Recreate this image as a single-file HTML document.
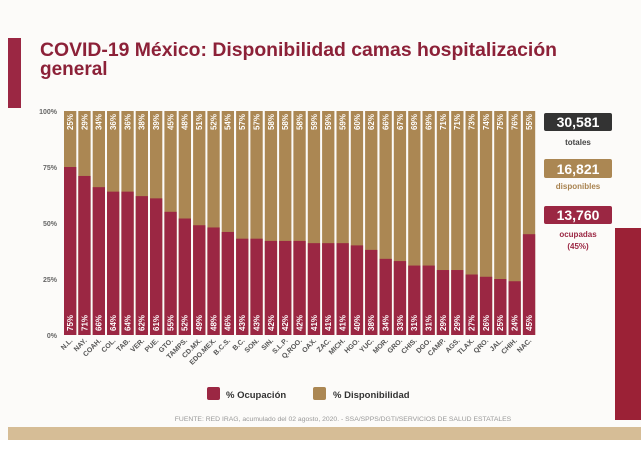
<!DOCTYPE html>
<html><head><meta charset="utf-8"><style>
html,body{margin:0;padding:0;background:#fff;}
svg{display:block;font-family:"Liberation Sans",sans-serif;}
</style></head><body>
<svg width="641" height="453" viewBox="0 0 641 453" xmlns="http://www.w3.org/2000/svg">
<rect width="641" height="453" fill="#fcfbf9"/>
<rect x="8" y="38" width="13" height="70" fill="#9b2743"/>
<text x="40" y="56" font-size="19" font-weight="bold" fill="#8c2138" textLength="517" lengthAdjust="spacingAndGlyphs">COVID-19 México: Disponibilidad camas hospitalización</text>
<text x="40" y="75" font-size="19" font-weight="bold" fill="#8c2138">general</text>
<g font-size="7" font-weight="bold" fill="#666" text-anchor="end">
<text x="57" y="114">100%</text><text x="57" y="170">75%</text><text x="57" y="226">50%</text><text x="57" y="282">25%</text><text x="57" y="338">0%</text>
</g>
<g font-size="8" font-weight="bold" fill="#fff">
<g transform="translate(64,0)"><rect y="111" width="12.3" height="224" fill="#ab8753"/><rect y="167" width="12.3" height="168" fill="#9b2743"/><text transform="translate(9,331) rotate(-90)">75%</text><text transform="translate(9,114) rotate(-90)" text-anchor="end">25%</text></g>
<g transform="translate(78.3,0)"><rect y="111" width="12.3" height="224" fill="#ab8753"/><rect y="175.96" width="12.3" height="159.04" fill="#9b2743"/><text transform="translate(9,331) rotate(-90)">71%</text><text transform="translate(9,114) rotate(-90)" text-anchor="end">29%</text></g>
<g transform="translate(92.7,0)"><rect y="111" width="12.3" height="224" fill="#ab8753"/><rect y="187.16" width="12.3" height="147.84" fill="#9b2743"/><text transform="translate(9,331) rotate(-90)">66%</text><text transform="translate(9,114) rotate(-90)" text-anchor="end">34%</text></g>
<g transform="translate(107,0)"><rect y="111" width="12.3" height="224" fill="#ab8753"/><rect y="191.64" width="12.3" height="143.36" fill="#9b2743"/><text transform="translate(9,331) rotate(-90)">64%</text><text transform="translate(9,114) rotate(-90)" text-anchor="end">36%</text></g>
<g transform="translate(121.4,0)"><rect y="111" width="12.3" height="224" fill="#ab8753"/><rect y="191.64" width="12.3" height="143.36" fill="#9b2743"/><text transform="translate(9,331) rotate(-90)">64%</text><text transform="translate(9,114) rotate(-90)" text-anchor="end">36%</text></g>
<g transform="translate(135.7,0)"><rect y="111" width="12.3" height="224" fill="#ab8753"/><rect y="196.12" width="12.3" height="138.88" fill="#9b2743"/><text transform="translate(9,331) rotate(-90)">62%</text><text transform="translate(9,114) rotate(-90)" text-anchor="end">38%</text></g>
<g transform="translate(150,0)"><rect y="111" width="12.3" height="224" fill="#ab8753"/><rect y="198.36" width="12.3" height="136.64" fill="#9b2743"/><text transform="translate(9,331) rotate(-90)">61%</text><text transform="translate(9,114) rotate(-90)" text-anchor="end">39%</text></g>
<g transform="translate(164.4,0)"><rect y="111" width="12.3" height="224" fill="#ab8753"/><rect y="211.8" width="12.3" height="123.2" fill="#9b2743"/><text transform="translate(9,331) rotate(-90)">55%</text><text transform="translate(9,114) rotate(-90)" text-anchor="end">45%</text></g>
<g transform="translate(178.7,0)"><rect y="111" width="12.3" height="224" fill="#ab8753"/><rect y="218.52" width="12.3" height="116.48" fill="#9b2743"/><text transform="translate(9,331) rotate(-90)">52%</text><text transform="translate(9,114) rotate(-90)" text-anchor="end">48%</text></g>
<g transform="translate(193.1,0)"><rect y="111" width="12.3" height="224" fill="#ab8753"/><rect y="225.24" width="12.3" height="109.76" fill="#9b2743"/><text transform="translate(9,331) rotate(-90)">49%</text><text transform="translate(9,114) rotate(-90)" text-anchor="end">51%</text></g>
<g transform="translate(207.4,0)"><rect y="111" width="12.3" height="224" fill="#ab8753"/><rect y="227.48" width="12.3" height="107.52" fill="#9b2743"/><text transform="translate(9,331) rotate(-90)">48%</text><text transform="translate(9,114) rotate(-90)" text-anchor="end">52%</text></g>
<g transform="translate(221.7,0)"><rect y="111" width="12.3" height="224" fill="#ab8753"/><rect y="231.96" width="12.3" height="103.04" fill="#9b2743"/><text transform="translate(9,331) rotate(-90)">46%</text><text transform="translate(9,114) rotate(-90)" text-anchor="end">54%</text></g>
<g transform="translate(236.1,0)"><rect y="111" width="12.3" height="224" fill="#ab8753"/><rect y="238.68" width="12.3" height="96.32" fill="#9b2743"/><text transform="translate(9,331) rotate(-90)">43%</text><text transform="translate(9,114) rotate(-90)" text-anchor="end">57%</text></g>
<g transform="translate(250.4,0)"><rect y="111" width="12.3" height="224" fill="#ab8753"/><rect y="238.68" width="12.3" height="96.32" fill="#9b2743"/><text transform="translate(9,331) rotate(-90)">43%</text><text transform="translate(9,114) rotate(-90)" text-anchor="end">57%</text></g>
<g transform="translate(264.8,0)"><rect y="111" width="12.3" height="224" fill="#ab8753"/><rect y="240.92" width="12.3" height="94.08" fill="#9b2743"/><text transform="translate(9,331) rotate(-90)">42%</text><text transform="translate(9,114) rotate(-90)" text-anchor="end">58%</text></g>
<g transform="translate(279.1,0)"><rect y="111" width="12.3" height="224" fill="#ab8753"/><rect y="240.92" width="12.3" height="94.08" fill="#9b2743"/><text transform="translate(9,331) rotate(-90)">42%</text><text transform="translate(9,114) rotate(-90)" text-anchor="end">58%</text></g>
<g transform="translate(293.4,0)"><rect y="111" width="12.3" height="224" fill="#ab8753"/><rect y="240.92" width="12.3" height="94.08" fill="#9b2743"/><text transform="translate(9,331) rotate(-90)">42%</text><text transform="translate(9,114) rotate(-90)" text-anchor="end">58%</text></g>
<g transform="translate(307.8,0)"><rect y="111" width="12.3" height="224" fill="#ab8753"/><rect y="243.16" width="12.3" height="91.84" fill="#9b2743"/><text transform="translate(9,331) rotate(-90)">41%</text><text transform="translate(9,114) rotate(-90)" text-anchor="end">59%</text></g>
<g transform="translate(322.1,0)"><rect y="111" width="12.3" height="224" fill="#ab8753"/><rect y="243.16" width="12.3" height="91.84" fill="#9b2743"/><text transform="translate(9,331) rotate(-90)">41%</text><text transform="translate(9,114) rotate(-90)" text-anchor="end">59%</text></g>
<g transform="translate(336.5,0)"><rect y="111" width="12.3" height="224" fill="#ab8753"/><rect y="243.16" width="12.3" height="91.84" fill="#9b2743"/><text transform="translate(9,331) rotate(-90)">41%</text><text transform="translate(9,114) rotate(-90)" text-anchor="end">59%</text></g>
<g transform="translate(350.8,0)"><rect y="111" width="12.3" height="224" fill="#ab8753"/><rect y="245.4" width="12.3" height="89.6" fill="#9b2743"/><text transform="translate(9,331) rotate(-90)">40%</text><text transform="translate(9,114) rotate(-90)" text-anchor="end">60%</text></g>
<g transform="translate(365.1,0)"><rect y="111" width="12.3" height="224" fill="#ab8753"/><rect y="249.88" width="12.3" height="85.12" fill="#9b2743"/><text transform="translate(9,331) rotate(-90)">38%</text><text transform="translate(9,114) rotate(-90)" text-anchor="end">62%</text></g>
<g transform="translate(379.5,0)"><rect y="111" width="12.3" height="224" fill="#ab8753"/><rect y="258.84" width="12.3" height="76.16" fill="#9b2743"/><text transform="translate(9,331) rotate(-90)">34%</text><text transform="translate(9,114) rotate(-90)" text-anchor="end">66%</text></g>
<g transform="translate(393.8,0)"><rect y="111" width="12.3" height="224" fill="#ab8753"/><rect y="261.08" width="12.3" height="73.92" fill="#9b2743"/><text transform="translate(9,331) rotate(-90)">33%</text><text transform="translate(9,114) rotate(-90)" text-anchor="end">67%</text></g>
<g transform="translate(408.2,0)"><rect y="111" width="12.3" height="224" fill="#ab8753"/><rect y="265.56" width="12.3" height="69.44" fill="#9b2743"/><text transform="translate(9,331) rotate(-90)">31%</text><text transform="translate(9,114) rotate(-90)" text-anchor="end">69%</text></g>
<g transform="translate(422.5,0)"><rect y="111" width="12.3" height="224" fill="#ab8753"/><rect y="265.56" width="12.3" height="69.44" fill="#9b2743"/><text transform="translate(9,331) rotate(-90)">31%</text><text transform="translate(9,114) rotate(-90)" text-anchor="end">69%</text></g>
<g transform="translate(436.8,0)"><rect y="111" width="12.3" height="224" fill="#ab8753"/><rect y="270.04" width="12.3" height="64.96" fill="#9b2743"/><text transform="translate(9,331) rotate(-90)">29%</text><text transform="translate(9,114) rotate(-90)" text-anchor="end">71%</text></g>
<g transform="translate(451.2,0)"><rect y="111" width="12.3" height="224" fill="#ab8753"/><rect y="270.04" width="12.3" height="64.96" fill="#9b2743"/><text transform="translate(9,331) rotate(-90)">29%</text><text transform="translate(9,114) rotate(-90)" text-anchor="end">71%</text></g>
<g transform="translate(465.5,0)"><rect y="111" width="12.3" height="224" fill="#ab8753"/><rect y="274.52" width="12.3" height="60.48" fill="#9b2743"/><text transform="translate(9,331) rotate(-90)">27%</text><text transform="translate(9,114) rotate(-90)" text-anchor="end">73%</text></g>
<g transform="translate(479.9,0)"><rect y="111" width="12.3" height="224" fill="#ab8753"/><rect y="276.76" width="12.3" height="58.24" fill="#9b2743"/><text transform="translate(9,331) rotate(-90)">26%</text><text transform="translate(9,114) rotate(-90)" text-anchor="end">74%</text></g>
<g transform="translate(494.2,0)"><rect y="111" width="12.3" height="224" fill="#ab8753"/><rect y="279" width="12.3" height="56" fill="#9b2743"/><text transform="translate(9,331) rotate(-90)">25%</text><text transform="translate(9,114) rotate(-90)" text-anchor="end">75%</text></g>
<g transform="translate(508.5,0)"><rect y="111" width="12.3" height="224" fill="#ab8753"/><rect y="281.24" width="12.3" height="53.76" fill="#9b2743"/><text transform="translate(9,331) rotate(-90)">24%</text><text transform="translate(9,114) rotate(-90)" text-anchor="end">76%</text></g>
<g transform="translate(522.9,0)"><rect y="111" width="12.3" height="224" fill="#ab8753"/><rect y="234.2" width="12.3" height="100.8" fill="#9b2743"/><text transform="translate(9,331) rotate(-90)">45%</text><text transform="translate(9,114) rotate(-90)" text-anchor="end">55%</text></g>
</g>
<g font-size="7" font-weight="bold" fill="#555" text-anchor="end">
<text transform="translate(73,341) rotate(-45)">N.L.</text>
<text transform="translate(87.3,341) rotate(-45)">NAY.</text>
<text transform="translate(101.7,341) rotate(-45)">COAH.</text>
<text transform="translate(116,341) rotate(-45)">COL.</text>
<text transform="translate(130.4,341) rotate(-45)">TAB.</text>
<text transform="translate(144.7,341) rotate(-45)">VER.</text>
<text transform="translate(159,341) rotate(-45)">PUE.</text>
<text transform="translate(173.4,341) rotate(-45)">GTO.</text>
<text transform="translate(187.7,341) rotate(-45)">TAMPS.</text>
<text transform="translate(202.1,341) rotate(-45)">CD.MX.</text>
<text transform="translate(216.4,341) rotate(-45)">EDO.MEX.</text>
<text transform="translate(230.7,341) rotate(-45)">B.C.S.</text>
<text transform="translate(245.1,341) rotate(-45)">B.C.</text>
<text transform="translate(259.4,341) rotate(-45)">SON.</text>
<text transform="translate(273.8,341) rotate(-45)">SIN.</text>
<text transform="translate(288.1,341) rotate(-45)">S.L.P.</text>
<text transform="translate(302.4,341) rotate(-45)">Q.ROO.</text>
<text transform="translate(316.8,341) rotate(-45)">OAX.</text>
<text transform="translate(331.1,341) rotate(-45)">ZAC.</text>
<text transform="translate(345.5,341) rotate(-45)">MICH.</text>
<text transform="translate(359.8,341) rotate(-45)">HGO.</text>
<text transform="translate(374.1,341) rotate(-45)">YUC.</text>
<text transform="translate(388.5,341) rotate(-45)">MOR.</text>
<text transform="translate(402.8,341) rotate(-45)">GRO.</text>
<text transform="translate(417.2,341) rotate(-45)">CHIS.</text>
<text transform="translate(431.5,341) rotate(-45)">DGO.</text>
<text transform="translate(445.8,341) rotate(-45)">CAMP.</text>
<text transform="translate(460.2,341) rotate(-45)">AGS.</text>
<text transform="translate(474.5,341) rotate(-45)">TLAX.</text>
<text transform="translate(488.9,341) rotate(-45)">QRO.</text>
<text transform="translate(503.2,341) rotate(-45)">JAL.</text>
<text transform="translate(517.5,341) rotate(-45)">CHIH.</text>
<text transform="translate(531.9,341) rotate(-45)">NAC.</text>
</g>
<g font-weight="bold" text-anchor="middle">
<rect x="544" y="113" width="68" height="18" rx="2" fill="#333"/>
<text x="578" y="127" font-size="14" fill="#fff">30,581</text>
<text x="578" y="145" font-size="8" fill="#444">totales</text>
<rect x="544" y="159" width="68" height="19" rx="2" fill="#ab8753"/>
<text x="578" y="174" font-size="14" fill="#fff">16,821</text>
<text x="578" y="189" font-size="8" fill="#a8824f">disponibles</text>
<rect x="544" y="206" width="68" height="18" rx="2" fill="#9b2743"/>
<text x="578" y="220" font-size="14" fill="#fff">13,760</text>
<text x="578" y="237" font-size="8" fill="#9b2743">ocupadas</text>
<text x="578" y="249" font-size="8" fill="#9b2743">(45%)</text>
</g>
<rect x="615" y="228" width="26" height="192" fill="#9b2136"/>
<rect x="207" y="387" width="13" height="13" rx="2" fill="#9b2743"/>
<text x="226" y="398" font-size="9.5" font-weight="bold" fill="#333">% Ocupación</text>
<rect x="313" y="387" width="13" height="13" rx="2" fill="#ab8753"/>
<text x="333" y="398" font-size="9.5" font-weight="bold" fill="#333">% Disponibilidad</text>
<text x="343" y="421" font-size="6.8" fill="#999" text-anchor="middle">FUENTE: RED IRAG, acumulado del 02  agosto, 2020. -  SSA/SPPS/DGTI/SERVICIOS DE SALUD ESTATALES</text>
<rect x="8" y="427" width="633" height="13" fill="#d6bd96"/>
<rect x="0" y="440" width="641" height="13" fill="#fff"/>
</svg>
</body></html>
